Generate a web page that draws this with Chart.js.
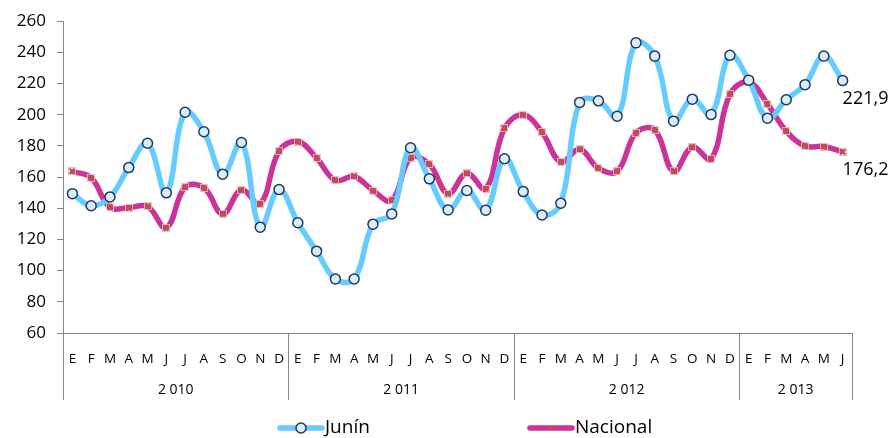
<!DOCTYPE html>
<html>
<head>
<meta charset="utf-8">
<script src="https://cdn.jsdelivr.net/npm/chart.js@4.4.0/dist/chart.umd.min.js"></script>
<style>
  html, body { margin: 0; padding: 0; background: #fff; }
  #wrap { width: 893px; height: 438px; }
</style>
</head>
<body>
<div id="wrap"><canvas id="c"></canvas></div>
<script>
const months = ['E', 'F', 'M', 'A', 'M', 'J', 'J', 'A', 'S', 'O', 'N', 'D'];
const years = ['2 010', '2 011', '2 012', '2 013'];
const monthsPerYear = [12, 12, 12, 6];

const junin = [
    149.4, 141.6, 147.3, 166.1, 181.7, 149.9, 201.6, 189.1, 161.9, 182.2, 127.9, 152.0,
    130.7, 112.5, 94.6, 94.6, 129.8, 136.4, 178.8, 158.9, 138.9, 151.4, 138.7, 171.8,
    150.7, 135.7, 143.3, 207.9, 208.9, 199.0, 246.1, 237.6, 195.9, 210.0, 200.1, 238.1,
    222.2, 197.8, 209.6, 219.3, 237.6, 221.9
];
const nacional = [
    163.6, 159.6, 140.6, 140.4, 141.2, 127.5, 153.5, 153.2, 136.4, 151.8, 142.9, 176.7,
    182.8, 172.2, 157.9, 160.4, 151.4, 145.0, 172.4, 168.2, 149.4, 162.5, 152.6, 191.2,
    199.9, 188.7, 169.7, 177.9, 165.7, 163.6, 188.3, 190.2, 163.6, 179.2, 171.6, 213.0,
    221.0, 207.0, 189.5, 180.0, 179.6, 176.2
];

const labels = years.flatMap((y, i) => months.slice(0, monthsPerYear[i]));
const FONT = '"Open Sans", "DejaVu Sans", sans-serif';
const AXIS = '#868686';

// year row under the month labels
const yearRow = {
    id: 'yearRow',
    afterDraw(chart) {
        const { ctx, chartArea } = chart;
        const x = chart.scales.x;
        const step = x.getPixelForValue(1) - x.getPixelForValue(0);
        const top = chartArea.bottom;
        const bot = chartArea.bottom + 67;
        ctx.save();
        ctx.strokeStyle = AXIS;
        ctx.lineWidth = 1;
        ctx.fillStyle = '#000';
        ctx.font = '14px ' + FONT;
        ctx.textAlign = 'center';
        ctx.textBaseline = 'middle';
        let start = 0;
        const edge = (i) => Math.round(x.getPixelForValue(i) - step / 2) + 0.5;
        years.forEach((y, k) => {
            const end = start + monthsPerYear[k];
            const x0 = edge(start);
            ctx.beginPath(); ctx.moveTo(x0, top); ctx.lineTo(x0, bot); ctx.stroke();
            const mid = (x.getPixelForValue(start) + x.getPixelForValue(end - 1)) / 2;
            ctx.fillText(y, mid, top + 57);
            start = end;
        });
        const xe = edge(start);
        ctx.beginPath(); ctx.moveTo(xe, top); ctx.lineTo(xe, bot); ctx.stroke();
        ctx.restore();
    }
};

// pale square behind the Nacional x markers (Excel style)
const markerBack = {
    id: 'markerBack',
    afterDatasetDraw(chart, args) {
        if (args.index !== 1) return;
        const ctx = chart.ctx;
        ctx.save();
        ctx.strokeStyle = 'rgba(230,185,184,0.9)';
        ctx.lineWidth = 1;
        args.meta.data.forEach(p => {
            ctx.strokeRect(Math.round(p.x) - 3.5, Math.round(p.y) - 3.5, 7, 7);
        });
        ctx.strokeStyle = '#C0504D';
        ctx.lineWidth = 2;
        args.meta.data.forEach(p => {
            const cx = Math.round(p.x), cy = Math.round(p.y);
            ctx.beginPath();
            ctx.moveTo(cx - 2.5, cy - 2.5); ctx.lineTo(cx + 2.5, cy + 2.5);
            ctx.moveTo(cx + 2.5, cy - 2.5); ctx.lineTo(cx - 2.5, cy + 2.5);
            ctx.stroke();
        });
        ctx.restore();
    }
};

// value labels on the last point of each series
const lastLabels = {
    id: 'lastLabels',
    afterDatasetsDraw(chart) {
        const ctx = chart.ctx;
        ctx.save();
        ctx.fillStyle = '#000';
        ctx.font = '18px ' + FONT;
        ctx.textAlign = 'left';
        ctx.textBaseline = 'middle';
        chart.data.datasets.forEach((ds, i) => {
            const pts = chart.getDatasetMeta(i).data;
            const p = pts[pts.length - 1];
            const v = ds.data[ds.data.length - 1];
            ctx.fillText(v.toFixed(1).replace('.', ','), p.x, p.y + 18);
        });
        ctx.restore();
    }
};

// legend drawn as line + marker like the original
const lineLegend = {
    id: 'lineLegend',
    afterDraw(chart) {
        const ctx = chart.ctx;
        const y = 428;
        const items = [
            { ds: chart.data.datasets[0], x: 278 },
            { ds: chart.data.datasets[1], x: 528 }
        ];
        ctx.save();
        items.forEach(({ ds, x }) => {
            ctx.strokeStyle = ds.borderColor;
            ctx.lineWidth = ds.borderWidth;
            ctx.lineCap = 'round';
            ctx.beginPath(); ctx.moveTo(x + 2, y); ctx.lineTo(x + 44, y); ctx.stroke();
            ctx.save();
            ctx.fillStyle = ds.pointBackgroundColor;
            ctx.strokeStyle = ds.pointBorderColor;
            ctx.lineWidth = ds.pointBorderWidth;
            ctx.lineCap = 'butt';
            Chart.helpers.drawPoint(ctx, {
                pointStyle: ds.pointStyle,
                radius: ds.pointRadius,
                borderWidth: ds.pointBorderWidth,
                rotation: 0
            }, x + 23, y);
            ctx.restore();
            ctx.fillStyle = '#000';
            ctx.font = '19px ' + FONT;
            ctx.textAlign = 'left';
            ctx.textBaseline = 'middle';
            ctx.fillText(ds.label, x + 47, y);
        });
        ctx.restore();
    }
};

new Chart(document.getElementById('c'), {
    type: 'line',
    data: {
        labels: labels,
        datasets: [
            {
                label: 'Junín',
                data: junin,
                borderColor: '#66CCFF',
                borderWidth: 5.5,
                tension: 0.4,
                pointStyle: 'circle',
                pointRadius: 5,
                pointBackgroundColor: '#DAEEF3',
                pointBorderColor: '#1F3864',
                pointBorderWidth: 1.5
            },
            {
                label: 'Nacional',
                data: nacional,
                borderColor: '#CC3399',
                borderWidth: 5.5,
                tension: 0.4,
                pointStyle: 'crossRot',
                pointRadius: 3,
                pointBackgroundColor: '#C0504D',
                pointBorderColor: '#C0504D',
                pointBorderWidth: 2
            }
        ]
    },
    options: {
        responsive: true,
        maintainAspectRatio: false,
        animation: false,
        layout: { padding: { top: 17, right: 41, bottom: 0, left: 0 } },
        scales: {
            x: {
                offset: true,
                grid: { display: false },
                border: { color: AXIS },
                ticks: {
                    color: '#000',
                    font: { family: FONT, size: 13.5 },
                    padding: 10,
                    autoSkip: false,
                    maxRotation: 0
                },
                afterFit: (axis) => { axis.height = 105; }
            },
            y: {
                min: 60,
                max: 260,
                grid: { drawOnChartArea: false, color: AXIS, tickLength: 6 },
                border: { color: AXIS },
                ticks: {
                    stepSize: 20,
                    color: '#000',
                    font: { family: FONT, size: 17 },
                    padding: 11
                },
                afterFit: (axis) => { axis.width = 63; }
            }
        },
        plugins: {
            legend: { display: false },
            tooltip: { enabled: false }
        }
    },
    plugins: [yearRow, markerBack, lastLabels, lineLegend]
});
</script>
</body>
</html>
